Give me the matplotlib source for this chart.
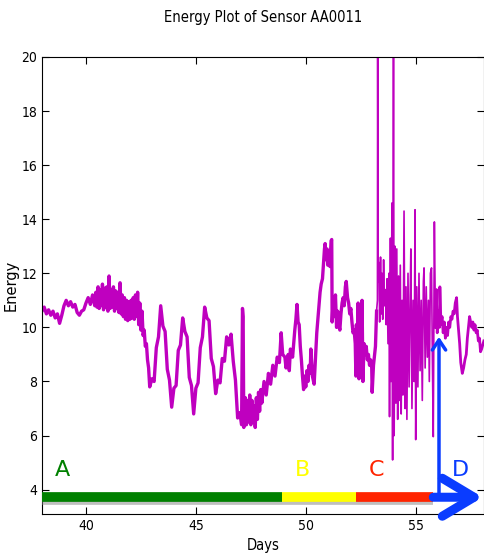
"""Energy plot of one sensor with phase bar."""
import matplotlib

matplotlib.use("Agg")
import matplotlib.pyplot as plt
import matplotlib.patheffects as pe

# energy trace (days, energy)
days = [
    38.0, 38.1, 38.2, 38.3, 38.4, 38.5, 38.6, 38.7, 38.8, 38.9, 39.0, 39.1, 39.2,
    39.3, 39.4, 39.5, 39.6, 39.7, 39.8, 39.9, 40.0, 40.1, 40.2, 40.3, 40.4,
    40.45, 40.5, 40.55, 40.6, 40.65, 40.7, 40.75, 40.8, 40.85, 40.9, 40.95, 41.0,
    41.05, 41.1, 41.15, 41.2, 41.25, 41.3, 41.35, 41.4, 41.45, 41.5, 41.55, 41.6,
    41.65, 41.7, 41.75, 41.8, 41.85, 41.9, 41.95, 42.0, 42.05, 42.1, 42.15, 42.2,
    42.25, 42.3, 42.35, 42.4, 42.45, 42.5, 42.55, 42.6, 42.65, 42.7, 42.75, 42.8,
    42.85,
    42.9, 43.0, 43.1, 43.2, 43.3, 43.4, 43.5, 43.6, 43.7, 43.8, 43.9, 44.0, 44.1,
    44.2, 44.3, 44.4, 44.5, 44.6, 44.7, 44.8, 44.9, 45.0, 45.1, 45.2, 45.3, 45.4,
    45.5, 45.6, 45.7, 45.8, 45.9, 46.0, 46.1, 46.2, 46.3, 46.4, 46.5, 46.6, 46.7,
    46.8, 46.9, 47.0, 47.08, 47.12, 47.15, 47.18, 47.25, 47.3, 47.35, 47.4, 47.45,
    47.5, 47.55, 47.6, 47.65, 47.7, 47.75, 47.8, 47.85, 47.9, 47.95, 48.0, 48.1,
    48.2, 48.3, 48.4, 48.5, 48.6, 48.7, 48.8, 48.88, 48.95, 49.05, 49.1, 49.2,
    49.25, 49.3, 49.4, 49.5, 49.55, 49.6, 49.65, 49.7, 49.75, 49.8, 49.85, 49.9,
    49.95, 50.0, 50.05, 50.1, 50.15, 50.2, 50.23, 50.3, 50.38, 50.45, 50.5, 50.55,
    50.6, 50.65, 50.7, 50.76, 50.8, 50.85, 50.88, 50.92, 50.97, 51.0, 51.05, 51.1,
    51.15, 51.18, 51.2, 51.25, 51.3, 51.35, 51.4, 51.45, 51.5, 51.55, 51.6, 51.65,
    51.7, 51.75, 51.8, 51.84, 51.9, 51.95, 52.0, 52.05, 52.1, 52.15, 52.2, 52.25,
    52.28, 52.3, 52.35, 52.38, 52.42, 52.47, 52.52, 52.56, 52.6, 52.65, 52.7,
    52.75, 52.8, 52.85, 52.9, 52.95, 53.0, 53.02, 53.08, 53.12, 53.17, 53.22,
    53.26, 53.27, 53.29, 53.33, 53.36, 53.4, 53.44, 53.47, 53.5, 53.54, 53.58,
    53.62, 53.66, 53.7, 53.74, 53.78, 53.81, 53.85, 53.88, 53.92, 53.95, 53.99,
    54.02, 54.06, 54.1, 54.14, 54.18, 54.22, 54.26, 54.3, 54.34, 54.38, 54.42,
    54.47, 54.52, 54.56, 54.6, 54.65, 54.7, 54.75, 54.78, 54.83, 54.88, 54.93,
    54.97, 55.0, 55.05, 55.1, 55.15, 55.2, 55.25, 55.3, 55.35, 55.38, 55.43, 55.48,
    55.53, 55.58, 55.62, 55.67, 55.72, 55.76, 55.8, 55.85, 55.9, 55.94, 55.98,
    56.03, 56.08, 56.1, 56.15, 56.2, 56.25, 56.3, 56.35, 56.4, 56.45, 56.5, 56.55,
    56.6, 56.65, 56.7, 56.75, 56.8, 56.86, 56.9, 56.95, 57.0, 57.05, 57.12, 57.18,
    57.24, 57.3, 57.35, 57.4, 57.45, 57.5, 57.55, 57.6, 57.65, 57.7, 57.75, 57.8,
    57.85, 57.9, 57.95, 58.0, 58.1,
]
energy = [
    10.6, 10.75, 10.5, 10.65, 10.45, 10.6, 10.35, 10.5, 10.15, 10.45, 10.8, 11.0,
    10.8, 10.95, 10.75, 10.85, 10.55, 10.45, 10.6, 10.65, 10.9, 11.1, 10.85, 11.2,
    10.8,
    11.3, 10.75, 11.5, 10.7, 11.4, 10.8, 11.6, 10.65, 11.45, 10.75, 11.5, 10.6,
    11.9, 10.7, 11.4, 10.75, 11.5, 10.6, 11.35, 10.7, 11.3, 10.55, 11.65, 10.5,
    11.2, 10.4, 11.1, 10.3, 11.0, 10.25, 10.95, 10.3, 11.0, 10.35, 11.1, 10.3,
    11.2, 10.4, 11.3, 10.1, 10.9, 9.9, 10.6, 9.7, 9.9, 9.3, 9.4, 8.8,
    8.5,
    7.8, 8.1, 8.0, 9.25, 9.65, 10.8, 10.05, 9.85, 8.45, 8.05, 7.05, 7.75, 7.85,
    9.15, 9.35, 10.35, 9.85, 9.65, 8.15, 7.85, 6.8, 7.75, 7.95, 9.25, 9.65, 10.75,
    10.35, 10.25, 8.85, 8.55, 7.55, 8.05, 7.95, 8.85, 8.75, 9.65, 9.35, 9.75, 8.75,
    8.05, 6.65, 6.85, 6.4, 10.7, 10.4, 6.3, 7.4, 6.4, 7.3, 6.5, 7.5,
    6.4, 7.3, 6.5, 7.1, 6.3, 7.4, 6.6, 7.6, 6.9, 7.7, 7.2, 8.0,
    7.5, 8.3, 7.9, 8.6, 8.2, 8.9, 8.7, 9.8, 9.0, 8.9, 8.5, 9.0,
    8.4, 9.2, 8.9, 9.9, 10.3, 10.85, 10.2, 10.1, 9.3, 8.8, 8.2, 7.7,
    8.2, 7.8, 8.4, 8.0, 8.6, 8.3, 9.2, 8.2, 7.9, 9.0, 9.8, 10.3,
    10.8, 11.3, 11.6, 11.8, 12.3, 12.9, 13.1, 12.5, 12.9, 12.3, 12.7, 12.25,
    13.2, 13.25, 10.2, 11.1, 10.4, 11.2, 10.0, 10.6, 10.1, 9.9, 10.5, 10.9,
    11.1, 10.8, 11.5, 11.7, 11.1, 10.9, 10.5, 10.7, 10.2, 9.8, 9.9, 9.4,
    8.2, 10.1, 9.6, 10.9, 8.1, 10.0, 9.5, 11.0, 8.0, 9.4, 9.0,
    9.3, 8.8, 9.0, 8.6, 8.8, 8.5, 7.6, 8.6, 8.9, 9.3, 10.6,
    11.0, 21.0, 11.7, 12.4, 10.2, 12.6, 10.5, 12.0, 10.3, 12.5, 10.8,
    11.4, 10.1, 11.8, 9.4, 12.0, 6.7, 13.3, 8.0, 14.6, 5.1, 21.0,
    6.0, 13.0, 7.2, 12.9, 6.6, 11.9, 7.3, 12.3, 6.8, 11.0, 7.5,
    14.3, 7.0, 11.5, 6.6, 12.0, 7.8, 11.2, 12.9, 7.0, 11.0, 8.0,
    14.35, 5.85, 11.5, 7.8, 12.0, 8.4, 11.0, 7.3, 11.7, 12.2, 8.5, 11.5,
    8.9, 11.0, 8.0, 12.0, 12.2, 8.8, 5.96, 13.9, 10.0, 11.4, 9.8,
    10.6, 10.0, 11.5, 10.1, 10.4, 9.8, 10.2, 9.6, 10.0, 9.7, 10.2, 10.0,
    10.4, 10.3, 10.6, 10.5, 10.9, 11.1, 10.4, 9.9, 9.4, 8.7, 8.3, 8.5,
    8.8, 9.0, 9.6, 10.0, 10.4, 10.2, 10.0, 10.2, 9.9, 10.1, 9.8, 9.9,
    9.5, 9.6, 9.1, 9.2, 9.5,
]

# phase bar along the bottom
phase_labels = ["A", "B", "C", "D"]
phase_starts = [38.0, 48.9, 52.3, 55.8]
phase_ends = [48.9, 52.3, 55.8, 58.05]
phase_colors = ["#008000", "#ffff00", "#ff2400", "#0a3cff"]
label_days = [38.95, 49.85, 53.2, 57.02]
phase_level = 3.72
label_level = 4.35
marker_day = 56.06
marker_top = 9.65
burst_start, burst_end = 53.22, 55.9  # thin spiky stretch of the trace

fig = plt.figure(figsize=(4.85, 5.54), dpi=100)
ax = fig.add_axes([0.0866, 0.0722, 0.911, 0.825])

magenta = (0.75, 0, 0.75)
i0 = sum(d <= burst_start for d in days)
i1 = sum(d <= burst_end for d in days)
ax.plot(days[:i0], energy[:i0], color=magenta, lw=2.4)
ax.plot(days[i0 - 1:i1], energy[i0 - 1:i1], color=magenta, lw=1.2)
ax.plot(days[i1 - 1:], energy[i1 - 1:], color=magenta, lw=2.0)

shadow = [pe.SimpleLineShadow(offset=(0, -2), shadow_color="gray", alpha=0.5), pe.Normal()]
for start, end, color in zip(phase_starts[:3], phase_ends[:3], phase_colors[:3]):
    ax.plot([start, end], [phase_level, phase_level], color=color, lw=7,
            solid_capstyle="butt", path_effects=shadow, zorder=3)

# blue arrow for the last phase
ax.annotate("", xy=(phase_ends[3], phase_level), xytext=(phase_starts[3], phase_level),
            arrowprops=dict(arrowstyle="->,head_length=1.2,head_width=0.72", lw=6.5,
                            color=phase_colors[3], shrinkA=0, shrinkB=0,
                            mutation_scale=19),
            annotation_clip=False, zorder=4)
ax.annotate("", xy=(marker_day, marker_top), xytext=(marker_day, phase_level),
            arrowprops=dict(arrowstyle="->,head_length=0.45,head_width=0.3", lw=2.5,
                            color=phase_colors[3], shrinkA=0, shrinkB=0,
                            mutation_scale=16),
            zorder=4)

for label, x, color in zip(phase_labels, label_days, phase_colors):
    ax.text(x, label_level, label, color=color, fontsize=16, ha="center",
            va="bottom", zorder=5)

ax.set_xlim(38.0, 58.1)
ax.set_ylim(3.1, 20)
ax.set_xticks([40, 45, 50, 55])
ax.set_yticks(range(4, 21, 2))
ax.tick_params(direction="in", top=True, right=True, length=5, labelsize=10)
for tl in ax.get_xticklabels() + ax.get_yticklabels():
    tl.set_fontstretch("condensed")
ax.set_title("Energy Plot of Sensor AA0011", fontsize=10.5, pad=25,
             fontstretch="condensed")
ax.set_xlabel("Days", fontsize=10.5, fontstretch="condensed")
ax.set_ylabel("Energy", fontsize=10.5)
ax.yaxis.set_label_coords(-0.052, 0.5)

fig.savefig("out.png", dpi=100)
